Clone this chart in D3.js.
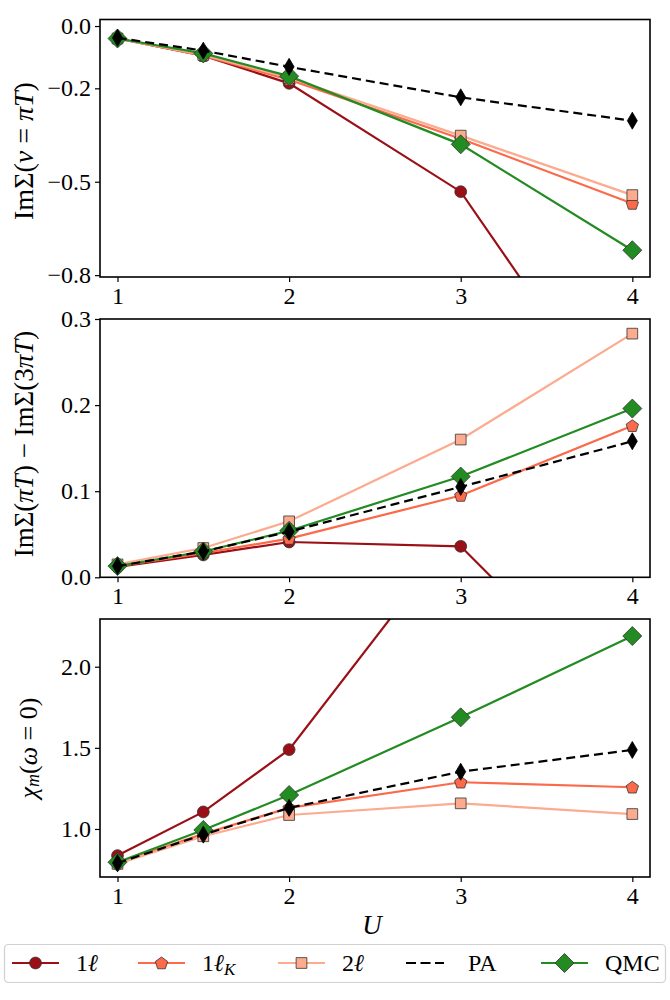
<!DOCTYPE html>
<html>
<head>
<meta charset="utf-8">
<script src="https://cdn.jsdelivr.net/npm/d3@7"></script>
<style>
  body { margin: 0; background: #fff; }
  svg text { font-family: "Liberation Serif", "Times New Roman", Times, serif; }
</style>
</head>
<body>
<svg id="chart" width="670" height="1000"></svg>
<script>
// data
const U = [1, 1.5, 2, 3, 4];

const sigma1 = {
    l1:  [-0.040, -0.095, -0.184, -0.532, -1.33],
    l1K: [-0.040, -0.095, -0.172, -0.362, -0.570],
    l2:  [-0.040, -0.093, -0.166, -0.352, -0.543],
    qmc: [-0.040, -0.088, -0.161, -0.380, -0.720],
    pa:  [-0.038, -0.079, -0.131, -0.229, -0.304],
};
const sigmaDiff = {
    l1:  [0.012, 0.026, 0.041, 0.036, -0.164],
    l1K: [0.013, 0.028, 0.045, 0.095, 0.176],
    l2:  [0.015, 0.034, 0.065, 0.160, 0.283],
    qmc: [0.013, 0.030, 0.054, 0.117, 0.196],
    pa:  [0.013, 0.030, 0.053, 0.105, 0.158],
};
const chi = {
    l1:  [0.836, 1.105, 1.489, 2.86, 4.5],
    l1K: [0.790, 0.970, 1.130, 1.288, 1.257],
    l2:  [0.785, 0.955, 1.086, 1.158, 1.092],
    qmc: [0.795, 0.994, 1.209, 1.688, 2.189],
    pa:  [0.790, 0.965, 1.130, 1.353, 1.487],
};

const xTicks = [1, 2, 3, 4];
const yTicks1 = [0.0, -0.2, -0.5, -0.8];
const yTicks2 = [0.0, 0.1, 0.2, 0.3];
const yTicks3 = [1.0, 1.5, 2.0];

const series = [
    {key: 'l1',  label: '1ℓ',  sub: '',  color: '#9b0f16', marker: 'circle',   dash: null},
    {key: 'l1K', label: '1ℓ',  sub: 'K', color: '#fb6a4a', marker: 'pentagon', dash: null},
    {key: 'l2',  label: '2ℓ',  sub: '',  color: '#fcab8f', marker: 'square',   dash: null},
    {key: 'qmc', label: 'QMC', sub: '',  color: '#228b22', marker: 'diamond',  dash: null},
    {key: 'pa',  label: 'PA',  sub: '',  color: '#000000', marker: 'thin',     dash: '9,5'},
];
const legendOrder = ['l1', 'l1K', 'l2', 'pa', 'qmc'];

// layout
const margin = {l: 100, r: 20};
const W = 670;
const panels = [
    {top: 19.5, bottom: 277,   domain: [-0.806, 0.021], ticks: yTicks1, data: sigma1,
     label: {x: 23, y: 151, size: 28}},
    {top: 319,  bottom: 577.3, domain: [0, 0.3],        ticks: yTicks2, data: sigmaDiff,
     label: {x: 24, y: 444, size: 27}},
    {top: 619,  bottom: 877,   domain: [0.704, 2.294],  ticks: yTicks3, data: chi,
     label: {x: 28, y: 748, size: 26}},
];
const fmt = d3.format('.1f');

const svg = d3.select('#chart');
const x = d3.scaleLinear().domain([0.898, 4.103]).range([margin.l, W - margin.r]);

function markerPath(kind) {
    if (kind === 'circle') return d3.symbol(d3.symbolCircle, 110)();
    if (kind === 'square') return d3.symbol(d3.symbolSquare, 115)();
    if (kind === 'diamond') {
        const s = 9.5;
        return `M0,${-s}L${s},0L0,${s}L${-s},0Z`;
    }
    if (kind === 'thin') {
        const h = 8.5, w = 5;
        return `M0,${-h}L${w},0L0,${h}L${-w},0Z`;
    }
    // pentagon
    const r = 6.5;
    const pts = d3.range(5).map(i => {
        const a = -Math.PI / 2 + i * 2 * Math.PI / 5;
        return [r * Math.cos(a), r * Math.sin(a) + 0.5];
    });
    return 'M' + pts.map(p => p.join(',')).join('L') + 'Z';
}

function edgeColor(s) {
    return s.key === 'pa' ? '#000' : '#333';
}

panels.forEach((p, i) => {
    const y = d3.scaleLinear().domain(p.domain).range([p.bottom, p.top]);
    const g = svg.append('g');

    g.append('clipPath').attr('id', `clip${i}`)
        .append('rect')
        .attr('x', margin.l).attr('y', p.top)
        .attr('width', W - margin.r - margin.l).attr('height', p.bottom - p.top);

    const plot = g.append('g').attr('clip-path', `url(#clip${i})`);

    const line = d3.line()
        .x((d, j) => x(U[j]))
        .y(d => y(d));

    series.forEach(s => {
        const vals = p.data[s.key];
        plot.append('path')
            .attr('d', line(vals))
            .attr('fill', 'none')
            .attr('stroke', s.color)
            .attr('stroke-width', 2.2)
            .attr('stroke-dasharray', s.dash);
        plot.selectAll(null)
            .data(vals)
            .enter().append('path')
            .attr('d', markerPath(s.marker))
            .attr('transform', (d, j) => `translate(${x(U[j])},${y(d)})`)
            .attr('fill', s.color)
            .attr('stroke', edgeColor(s))
            .attr('stroke-width', 0.8);
    });

    // frame
    g.append('rect')
        .attr('x', margin.l).attr('y', p.top)
        .attr('width', W - margin.r - margin.l).attr('height', p.bottom - p.top)
        .attr('fill', 'none').attr('stroke', '#000').attr('stroke-width', 1.6);

    const xAxis = d3.axisBottom(x).tickValues(xTicks).tickFormat(d3.format('d'))
        .tickSize(5).tickPadding(5);
    const xa = g.append('g').attr('transform', `translate(0,${p.bottom})`).call(xAxis);
    const yAxis = d3.axisLeft(y).tickValues(p.ticks).tickFormat(d => fmt(d).replace('-', '−'))
        .tickSize(5).tickPadding(4);
    const ya = g.append('g').attr('transform', `translate(${margin.l},0)`).call(yAxis);

    [xa, ya].forEach(a => {
        a.attr('font-family', null).attr('font-size', null);
        a.select('.domain').remove();
        a.selectAll('line').attr('stroke', '#000').attr('stroke-width', 1.2);
        a.selectAll('text').attr('font-size', 24).attr('fill', '#000');
    });
});

// y labels
function yLabel(parts, lab) {
    const t = svg.append('text')
        .attr('transform', `translate(${lab.x},${lab.y}) rotate(-90)`)
        .attr('text-anchor', 'middle')
        .attr('dominant-baseline', 'central')
        .attr('font-size', lab.size);
    parts.forEach(([txt, style]) => {
        const ts = t.append('tspan').text(txt);
        if (style === 'i') ts.attr('font-style', 'italic');
        if (style === 'sub') ts.attr('font-style', 'italic').attr('font-size', 18).attr('dy', 5);
        if (style === 'up') ts.attr('dy', -5);
    });
}
yLabel([['ImΣ(', ''], ['ν', 'i'], [' = ', ''], ['πT', 'i'], [')', '']], panels[0].label);
yLabel([['ImΣ(', ''], ['πT', 'i'], [') − ImΣ(3', ''], ['πT', 'i'], [')', '']], panels[1].label);
yLabel([['χ', 'i'], ['m', 'sub'], ['(', 'up'], ['ω', 'i'], [' = 0)', '']], panels[2].label);

// x label
svg.append('text')
    .attr('x', x(2.5) - 3).attr('y', 934)
    .attr('text-anchor', 'middle')
    .attr('font-size', 27).attr('font-style', 'italic')
    .text('U');

// legend
const leg = svg.append('g');
leg.append('rect')
    .attr('x', 4.5).attr('y', 944.5).attr('width', 661).attr('height', 38)
    .attr('rx', 4).attr('fill', '#fff').attr('stroke', '#d0d0d0').attr('stroke-width', 1.2);

const legX = {l1: 12, l1K: 138, l2: 278, pa: 406, qmc: 541};
const legY = 963;
legendOrder.forEach(k => {
    const s = series.find(d => d.key === k);
    const x0 = legX[k];
    leg.append('line')
        .attr('x1', x0).attr('x2', x0 + (k === 'pa' ? 38 : 47))
        .attr('y1', legY).attr('y2', legY)
        .attr('stroke', s.color).attr('stroke-width', 2.2)
        .attr('stroke-dasharray', s.dash ? '10,4.5' : null);
    if (k !== 'pa') {
        leg.append('path')
            .attr('d', markerPath(s.marker))
            .attr('transform', `translate(${x0 + 23.5},${legY})`)
            .attr('fill', s.color).attr('stroke', edgeColor(s)).attr('stroke-width', 0.8);
    }
    const t = leg.append('text')
        .attr('x', x0 + (k === 'pa' ? 62 : 64)).attr('y', legY + 8)
        .attr('font-size', 24);
    if (s.label === 'PA' || s.label === 'QMC') {
        t.text(s.label);
    } else {
        t.append('tspan').text(s.label[0]);
        t.append('tspan').text(s.label.slice(1)).attr('font-style', 'italic');
        if (s.sub) t.append('tspan').text(s.sub).attr('font-style', 'italic')
            .attr('font-size', 17).attr('dy', 4);
    }
});
</script>
</body>
</html>
